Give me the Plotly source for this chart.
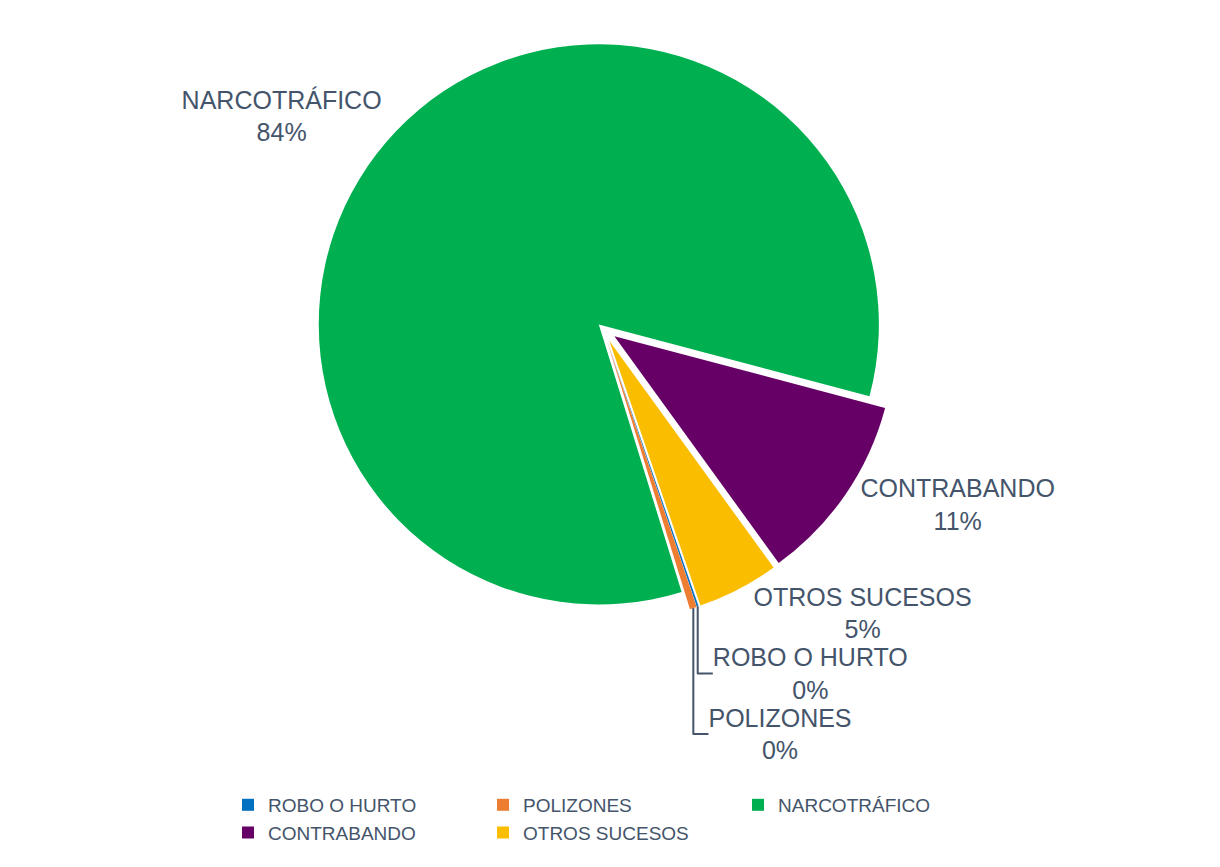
import plotly.graph_objects as go

categories = ["ROBO O HURTO", "POLIZONES", "NARCOTRÁFICO", "CONTRABANDO", "OTROS SUCESOS"]
values = [0.1, 0.4, 83.9, 10.9, 4.7]
colors = ["#0070C0", "#ED7D31", "#00AF50", "#660066", "#FBBD00"]
pulls = [0.05, 0.05, 0.02, 0.05, 0.05]

TEXT = "#44546A"
FONT = "Liberation Sans, Arial, sans-serif"

fig = go.Figure(go.Pie(
    labels=categories,
    values=values,
    sort=False,
    direction="clockwise",
    rotation=161,
    pull=pulls,
    marker=dict(colors=colors, line=dict(color="white", width=0)),
    textposition="outside",
    texttemplate="%{label}<br>%{percent:.0%}",
    textfont=dict(family=FONT, size=25, color=TEXT),
    domain=dict(x=[0, 0.95], y=[0.18, 0.978]),
    hoverinfo="label+percent",
))

fig.update_layout(
    width=1220,
    height=867,
    margin=dict(l=210, r=210, t=10, b=120),
    paper_bgcolor="white",
    plot_bgcolor="white",
    font=dict(family=FONT, color=TEXT),
    showlegend=True,
    legend=dict(
        orientation="h",
        x=0.485,
        xanchor="center",
        y=-0.042,
        yanchor="top",
        entrywidth=210,
        font=dict(family=FONT, size=19, color=TEXT),
        traceorder="normal",
    ),
)

fig.write_html("out.html")
